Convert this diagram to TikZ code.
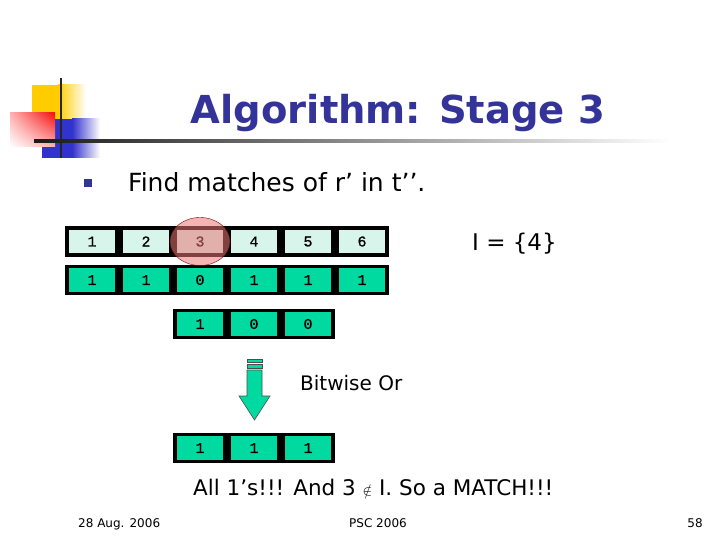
\documentclass[tikz,border=0pt]{standalone}
\usepackage{fontspec}
\setmainfont{DejaVu Sans}
\newfontfamily\cellfont[FakeBold=0.8]{Liberation Mono}
\usetikzlibrary{shapes.geometric,shadings}
\definecolor{titleblue}{RGB}{51,51,153}
\definecolor{mint}{RGB}{215,245,235}
\definecolor{teal}{RGB}{0,218,160}
\definecolor{pinkc}{RGB}{235,120,120}
\definecolor{logoyel}{RGB}{255,204,0}
\definecolor{logored}{RGB}{245,15,15}
\definecolor{logoblue}{RGB}{50,50,205}
\tikzset{
  cell/.style={draw=black, line width=3.8pt, minimum width=50pt, minimum height=27pt,
    inner sep=0pt, font=\cellfont\fontsize{15}{15}\selectfont},
  lightcell/.style={cell, fill=mint},
  darkcell/.style={cell, fill=teal},
  slidetext/.style={inner sep=0pt, anchor=west},
  foot/.style={inner sep=0pt, font=\fontsize{12}{12}\selectfont}
}
\begin{document}
\begin{tikzpicture}[x=1pt,y=-1pt]
\useasboundingbox (0,0) rectangle (720,540);
\fill[white] (0,0) rectangle (720,540);
% logo
\fill[logoyel] (32,85) rectangle (58,119);
\shade[left color=logoyel, right color=white] (58,85) rectangle (86,119);
\fill[logoblue] (42,119) rectangle (72,158);
\shade[left color=logoblue, right color=white] (72,119) rectangle (100,158);
\shade[upper right=logored, lower right=red!30!white, upper left=red!30!white, lower left=white] (10,113) rectangle (55,147);
\draw[line width=2.5pt, black!85] (61,78) -- (61,158);
\shade[left color=black!90, right color=white] (34,139.5) rectangle (670,142.5);
% title
\node[inner sep=0pt, anchor=base, font=\bfseries\fontsize{38.5}{38.5}\selectfont, text=titleblue] (title) at (398,124) {Algorithm: Stage 3};
% bullet
\fill[titleblue] (84,179) rectangle (92,187);
\node[slidetext, anchor=base west, font=\fontsize{25}{25}\selectfont] (find) at (128,192) {Find matches of r’ in t’’.};
% row 1
\foreach \i/\v in {1/1,2/2,3/3,4/4,5/5,6/6}{
  \node[lightcell] (a\i) at ({38+54*\i},241.5) {\v};
}
% row 2
\foreach \i/\v in {1/1,2/1,3/0,4/1,5/1,6/1}{
  \node[darkcell] (b\i) at ({38+54*\i},280) {\v};
}
% row 3
\foreach \i/\v in {3/1,4/0,5/0}{
  \node[darkcell] (c\i) at ({38+54*\i},324) {\v};
}
% result
\foreach \i/\v in {3/1,4/1,5/1}{
  \node[darkcell] (d\i) at ({38+54*\i},448) {\v};
}
% highlight ellipse
\node[ellipse, draw=red!45!black, fill=pinkc, fill opacity=0.55, minimum width=60pt, minimum height=48pt, inner sep=0pt] (hl) at (a3.center) {};
% I set
\node[inner sep=0pt, anchor=base west, font=\fontsize{23}{23}\selectfont] (iset) at (472,250) {I = \{4\}};
% arrow
\begin{scope}[draw=black!70, line width=0.6pt, fill=teal]
\filldraw (247,359) rectangle (262,362);
\filldraw (247,364) rectangle (262,368);
\filldraw (247,370) -- (262,370) -- (262,396) -- (270,396) -- (254.5,420) -- (239,396) -- (247,396) -- cycle;
\end{scope}
\node[slidetext, anchor=base west, font=\fontsize{21.5}{22}\selectfont] (bor) at (300,390) {\fontsize{20}{20}\selectfont Bitwise Or};
% conclusion
\node[slidetext, anchor=base west, font=\fontsize{21.5}{22}\selectfont] (concl) at (193,495) {All 1’s!!! And 3 {\fontsize{14}{14}\selectfont$\notin$} I. So a MATCH!!!};
% footer
\node[foot, anchor=base west] (date) at (78,527) {28 Aug. 2006};
\node[foot, anchor=base] (conf) at (378,527) {PSC 2006};
\node[foot, anchor=base] (page) at (695,527) {58};
\end{tikzpicture}
\end{document}
